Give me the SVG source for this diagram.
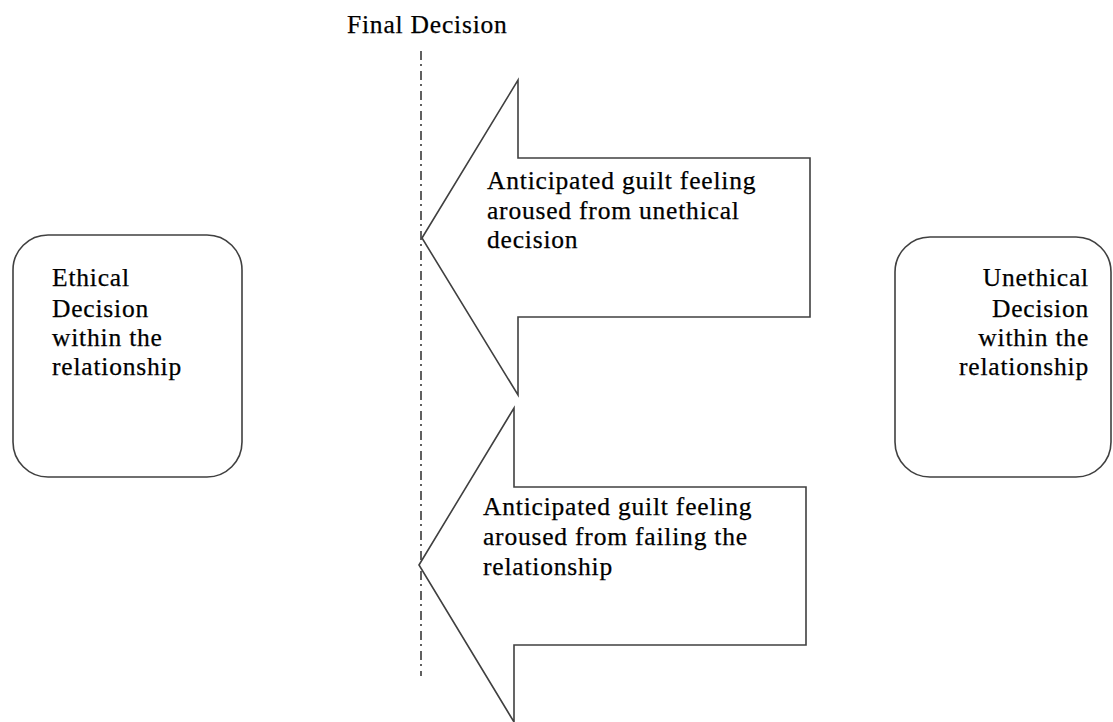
<svg xmlns="http://www.w3.org/2000/svg" width="1113" height="722" viewBox="0 0 1113 722">
<style>
.shape{fill:#fff;stroke:#404040;stroke-width:1.6;stroke-linejoin:miter}
.t{font-family:"Liberation Serif","Times New Roman",serif;font-size:25.5px;fill:#000;letter-spacing:0.8px;stroke:#000;stroke-width:0.25px}
.guide{stroke:#505050;stroke-width:1.8;stroke-dasharray:9 4 2 5;fill:none}
</style>
<rect width="1113" height="722" fill="#fff"/>
<g id="connectors">
<line class="guide" x1="421" y1="51" x2="421" y2="676"/>
</g>
<g id="final-decision">
<text class="t" x="347" y="33">Final Decision</text>
</g>
<g id="ethical">
<rect class="shape" x="13" y="235" width="229" height="242" rx="35" ry="35"/>
<text class="t" x="52" y="286">Ethical</text>
<text class="t" x="52" y="317">Decision</text>
<text class="t" x="52" y="346">within the</text>
<text class="t" x="52" y="375">relationship</text>
</g>
<g id="unethical">
<rect class="shape" x="895" y="237" width="216" height="240" rx="35" ry="35"/>
<text class="t" x="1089" y="286" text-anchor="end">Unethical</text>
<text class="t" x="1089" y="317" text-anchor="end">Decision</text>
<text class="t" x="1089" y="346" text-anchor="end">within the</text>
<text class="t" x="1089" y="375" text-anchor="end">relationship</text>
</g>
<g id="arrow-unethical">
<polygon class="shape" points="422,238 518,80 518,158 810,158 810,317 518,317 518,395"/>
<text class="t" x="487" y="189">Anticipated guilt feeling</text>
<text class="t" x="487" y="219">aroused from unethical</text>
<text class="t" x="487" y="248">decision</text>
</g>
<g id="arrow-relationship">
<polygon class="shape" points="419,565 514,408 514,487 806,487 806,645 514,645 514,722"/>
<text class="t" x="483" y="515">Anticipated guilt feeling</text>
<text class="t" x="483" y="545">aroused from failing the</text>
<text class="t" x="483" y="575">relationship</text>
</g>
</svg>
